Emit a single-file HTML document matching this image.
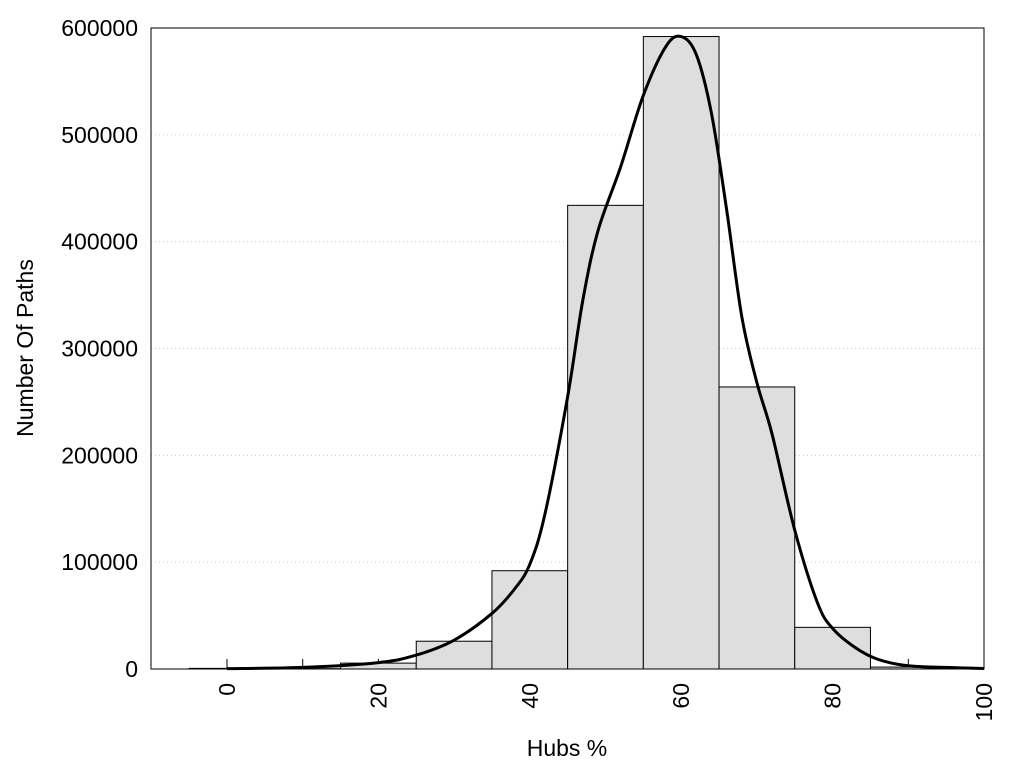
<!DOCTYPE html>
<html><head><meta charset="utf-8"><style>
body{margin:0;background:#fff;}
svg text{font-family:"Liberation Sans",Arial,sans-serif;font-size:23px;fill:#000;}
</style></head><body>
<svg id="s" width="1024" height="768" xmlns="http://www.w3.org/2000/svg">
<rect width="1024" height="768" fill="#fff"/>
<g id="grid" stroke="#ccc" stroke-width="1" stroke-dasharray="1,3"></g>
<g id="ticks" stroke="#000" stroke-width="1"></g>
<g id="bars" fill="#dedede" stroke="#000" stroke-width="1"></g>
<rect x="151" y="28" width="833" height="641" fill="none" stroke="#000" stroke-width="1"/>
<path id="curve" fill="none" stroke="#000" stroke-width="3"/>
<g id="labels"></g>
<text x="567" y="756" text-anchor="middle">Hubs %</text>
<text transform="translate(33,348) rotate(-90)" text-anchor="middle">Number Of Paths</text>
</svg>
<script>
var NS="http://www.w3.org/2000/svg";
function X(u){return 227+u*7.57;}
function Y(v){return 669-v*641/600000;}
function el(p,t,a,txt){var e=document.createElementNS(NS,t);for(var k in a)e.setAttribute(k,a[k]);if(txt!==undefined)e.textContent=txt;document.getElementById(p).appendChild(e);}
for(var v=100000;v<=500000;v+=100000)el("grid","line",{x1:151,x2:984,y1:Y(v),y2:Y(v)});
for(var v=0;v<=600000;v+=100000){el("labels","text",{x:138,y:Y(v)+8,"text-anchor":"end"},String(v));}
var bars=[[0,600],[10,300],[20,5500],[30,26000],[40,92000],[50,434000],[60,592000],[70,264000],[80,39000],[90,1800]];
bars.forEach(function(b){var x0=X(b[0]-5),x1=X(b[0]+5);el("bars","rect",{x:x0,y:Y(b[1]),width:x1-x0,height:669-Y(b[1])});});
for(var u=0;u<=90;u+=10){el("ticks","line",{x1:X(u),x2:X(u),y1:669,y2:659});}
for(var u=0;u<=100;u+=20){var x=X(u);el("labels","text",{transform:"translate("+(x+8)+",683) rotate(-90)","text-anchor":"end"},String(u));}
var pts=[[0,300],[10,1500],[20,6000],[25,13000],[30,27000],[35,52000],[38,75000],[40,98000],[42,145000],[45,255000],[47,345000],[49,410000],[52,470000],[55,537000],[58,583000],[60,592000],[62,575000],[64,520000],[66,430000],[68,330000],[70,268000],[72,220000],[75,130000],[78,62000],[80,38000],[83,20000],[86,9000],[90,3000],[95,1500],[100,500]];
var P=pts.map(function(p){return [X(p[0]),Y(p[1])];});
var d="M"+P[0][0]+","+P[0][1];
for(var i=0;i<P.length-1;i++){var p0=P[Math.max(0,i-1)],p1=P[i],p2=P[i+1],p3=P[Math.min(P.length-1,i+2)];
var c1=[p1[0]+(p2[0]-p0[0])/6,p1[1]+(p2[1]-p0[1])/6],c2=[p2[0]-(p3[0]-p1[0])/6,p2[1]-(p3[1]-p1[1])/6];
d+=" C"+c1[0]+","+c1[1]+" "+c2[0]+","+c2[1]+" "+p2[0]+","+p2[1];}
document.getElementById("curve").setAttribute("d",d);
</script>
</body></html>
